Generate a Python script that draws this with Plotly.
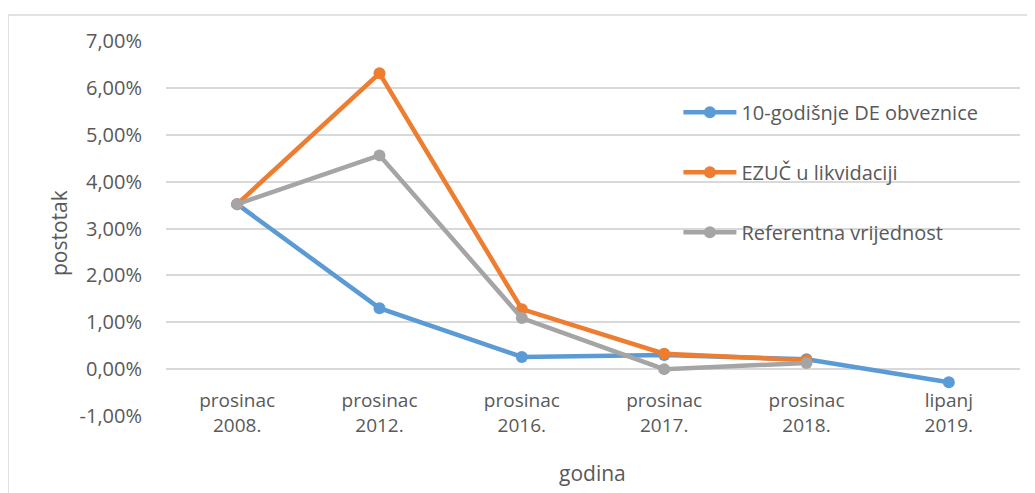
import plotly.graph_objects as go

categories = ["prosinac<br>2008.", "prosinac<br>2012.", "prosinac<br>2016.",
              "prosinac<br>2017.", "prosinac<br>2018.", "lipanj<br>2019."]
de_bonds = [3.52, 1.30, 0.26, 0.30, 0.21, -0.28]
ezuc = [3.52, 6.31, 1.28, 0.33, 0.19, None]
referent = [3.52, 4.56, 1.09, 0.00, 0.13, None]
y_ticks = [-1, 0, 1, 2, 3, 4, 5, 6, 7]
y_labels = ["-1,00%", "0,00%", "1,00%", "2,00%", "3,00%", "4,00%", "5,00%", "6,00%", "7,00%"]

series = [
    ("10-godišnje DE obveznice", de_bonds, "#5B9BD5"),
    ("EZUČ u likvidaciji", ezuc, "#ED7D31"),
    ("Referentna vrijednost", referent, "#A5A5A5"),
]

fig = go.Figure()
for i, (name, vals, color) in enumerate(series):
    fig.add_trace(go.Scatter(
        x=categories, y=vals, name=name, mode="lines+markers",
        line=dict(color=color, width=4.5),
        marker=dict(color=color, size=12),
        legendgroup=str(i),
    ))

# page body has an 8px margin, so the figure is offset by (8, 8)
W, H = 1027, 485
L, T, PW, PH = 158, 33, 854, 375

font = "Open Sans"
fig.update_layout(
    width=W, height=H,
    margin=dict(l=L, r=W - L - PW, t=T, b=H - T - PH),
    paper_bgcolor="white", plot_bgcolor="white",
    font=dict(family=font, color="#595959", size=19),
    showlegend=True,
    legend=dict(x=0.6, y=0.862, xanchor="left", yanchor="top",
                traceorder="grouped", tracegroupgap=31, itemwidth=53,
                font=dict(size=20, color="#595959"), bgcolor="rgba(0,0,0,0)"),
    xaxis=dict(range=[-0.5, 5.5], showgrid=False, showline=False, zeroline=False,
               tickfont=dict(size=19), ticklabelstandoff=-29),
    yaxis=dict(range=[-1, 7], tickvals=y_ticks, ticktext=y_labels,
               showgrid=True, gridcolor="#D9D9D9", gridwidth=1.5,
               zeroline=False, showline=False, ticklabelstandoff=23,
               tickfont=dict(size=20)),
)

# axis titles
fig.add_annotation(text="godina", xref="paper", yref="paper",
                   x=(584 - L) / PW, y=(T + PH - 465) / PH,
                   xanchor="center", yanchor="middle", showarrow=False,
                   font=dict(size=21, color="#595959"))
fig.add_annotation(text="postotak", xref="paper", yref="paper",
                   x=(51 - L) / PW, y=(T + PH - 225) / PH, textangle=-90,
                   xanchor="center", yanchor="middle", showarrow=False,
                   font=dict(size=21, color="#595959"))

# outer chart border
fig.add_shape(type="rect", xref="paper", yref="paper",
              x0=(0 - L) / PW, x1=(1021 - L) / PW,
              y0=(T + PH - 500) / PH, y1=(T + PH - 7) / PH,
              line=dict(color="#D9D9D9", width=1.5), fillcolor="rgba(0,0,0,0)",
              layer="below")

fig.write_html("out.html")
